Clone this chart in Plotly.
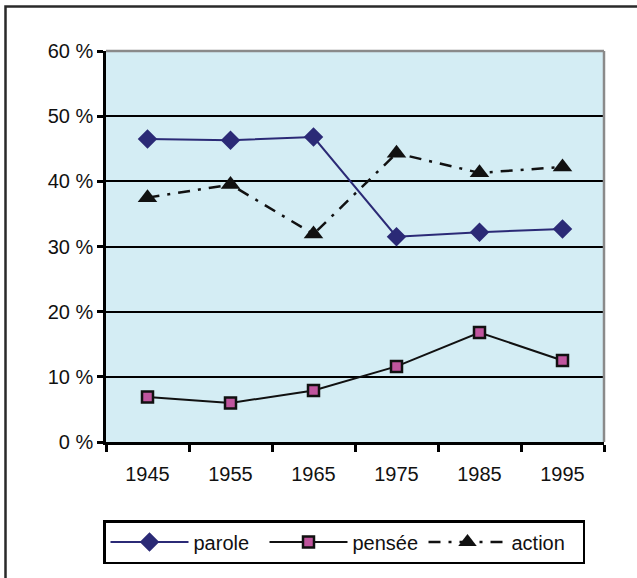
import plotly.graph_objects as go

years = ["1945", "1955", "1965", "1975", "1985", "1995"]
parole = [46.5, 46.3, 46.8, 31.5, 32.2, 32.7]
pensee = [6.9, 6.0, 7.9, 11.6, 16.8, 12.5]
action = [37.5, 39.5, 31.9, 44.3, 41.3, 42.2]
y_ticks = [0, 10, 20, 30, 40, 50, 60]
y_tick_labels = ["0 %", "10 %", "20 %", "30 %", "40 %", "50 %", "60 %"]

FONT = "Liberation Sans, Arial, sans-serif"

fig = go.Figure()
fig.add_trace(go.Scatter(
    x=years, y=parole, name="parole", mode="lines+markers",
    line=dict(color="#2B2A76", width=2),
    marker=dict(symbol="diamond", size=15, color="#2B2A76"),
))
fig.add_trace(go.Scatter(
    x=years, y=pensee, name="pensée", mode="lines+markers",
    line=dict(color="#111111", width=2),
    marker=dict(symbol="square", size=11, color="#C0559E",
                line=dict(color="#111111", width=2.5)),
))
fig.add_trace(go.Scatter(
    x=years, y=action, name="action", mode="lines+markers",
    line=dict(color="#111111", width=2.5, dash="12px,8px,3px,8px"),
    marker=dict(symbol="triangle-up", size=17, color="#111111"),
))

W, H = 637, 578
PL, PR, PT, PB = 106, 604, 51, 442  # target plot area in window pixels
ml, mt = PL, PT
mr = W - PR
mb = H - PB
pw, ph = PR - PL, PB - PT

def px_x(p):
    return (p - PL) / pw

def px_y(p):
    return (PB - p) / ph

fig.update_layout(
    width=W, height=H,
    margin=dict(l=ml, r=mr, t=mt, b=mb, autoexpand=False),
    paper_bgcolor="white",
    plot_bgcolor="#D4EDF4",
    font=dict(family=FONT, size=20, color="#111111"),
    showlegend=True,
    legend=dict(
        orientation="h",
        x=px_x(103), y=px_y(520), xanchor="left", yanchor="top",
        bordercolor="black", borderwidth=2.5,
        bgcolor="white",
        itemwidth=78,
        entrywidth=66, entrywidthmode="pixels",
        font=dict(size=20, family=FONT),
    ),
    xaxis=dict(
        type="category", range=[-0.5, 5.5], automargin=False,
        showgrid=False, showline=True, linecolor="black", linewidth=2.5,
        ticks="outside", tickson="boundaries", ticklen=7, tickwidth=2.5,
        tickcolor="black", zeroline=False, ticklabelstandoff=12,
    ),
    yaxis=dict(
        range=[0, 60], tickvals=y_ticks, ticktext=y_tick_labels,
        automargin=False,
        showgrid=True, gridcolor="black", gridwidth=2,
        showline=True, linecolor="black", linewidth=2.5,
        ticks="outside", ticklen=6, tickwidth=2.5, tickcolor="black",
        zeroline=False,
    ),
    shapes=[
        dict(type="line", xref="paper", yref="paper", x0=0, x1=1, y0=1, y1=1,
             line=dict(color="#8A8A8A", width=2.5)),
        dict(type="line", xref="paper", yref="paper", x0=1, x1=1, y0=0, y1=1,
             line=dict(color="#8A8A8A", width=2.5)),
        dict(type="rect", xref="paper", yref="paper",
             x0=px_x(5.5), x1=px_x(700), y0=px_y(700), y1=px_y(6.5),
             line=dict(color="#2A2A2A", width=2.5), layer="below"),
    ],
)

fig.write_html(
    "out.html",
    config={"displayModeBar": False},
    post_script="document.body.style.margin='0';document.body.style.padding='0';",
)
